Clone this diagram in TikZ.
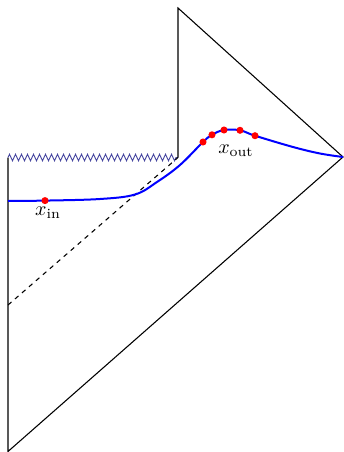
\documentclass[tikz,border=0pt]{standalone}
\usepackage{amsmath}
\usepackage{tikz}
\usetikzlibrary{decorations.pathmorphing,positioning}
\definecolor{singBlue}{RGB}{70, 70, 160}

\begin{document}
\begin{tikzpicture}[
    x=0.65pt, y=-0.65pt,
    edge/.style={line width=0.7pt},
    sing/.style={draw=singBlue, line width=0.6pt, decorate, decoration={zigzag, segment length=3.9pt, amplitude=2.1pt}},
    slice/.style={draw=blue, line width=1.3pt},
    dot/.style={circle, fill=red, inner sep=0pt, minimum size=4.6pt},
    label/.style={scale=1.3}
]
\useasboundingbox (0,0) rectangle (344,452);

% Corners of the diagram
\coordinate (topL) at (8,157.5);
\coordinate (bot) at (8,451.5);
\coordinate (right) at (343,157);
\coordinate (top) at (178,8);
\coordinate (topR) at (178,157.5);
\coordinate (hor) at (8,305);

% Boundary
\draw[edge] (topL) -- (bot) -- (right) -- (top) -- (topR);
\draw[sing] (topL) -- (topR);
\draw[edge, dashed] (hor) -- (topR);

% Slice
\draw[slice] plot[smooth, tension=0.6] coordinates {(8,201) (45,200.6) (100,199) (135,194.5) (157,182) (180,165) (203,142) (212,134.8) (224,130) (240,130.3) (255,135.7) (293,147) (320,153.5) (343,157)};

% Points
\node[dot] (in) at (45,200.6) {};
\foreach \p [count=\i] in {(203,142), (212,134.8), (224,130), (240,130.3), (255,135.7)}
    \node[dot] (out\i) at \p {};

\node[label] (xin) at (48,212.5) {$x_{\text{in}}$};
\node[label] (xout) at (236,151) {$x_{\text{out}}$};
\end{tikzpicture}
\end{document}
